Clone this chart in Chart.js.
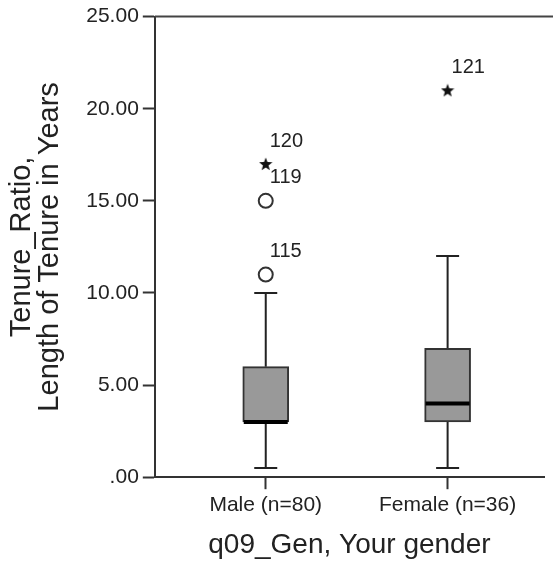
<!DOCTYPE html>
<html>
<head>
<meta charset="utf-8">
<script src="https://cdn.jsdelivr.net/npm/chart.js@4"></script>
<style>
  body { margin: 0; background: #fff; }
  #wrap { width: 553px; height: 563px; }
</style>
</head>
<body>
<div id="wrap"><canvas id="boxChart"></canvas></div>
<script>
// Data
const categories = ['Male (n=80)', 'Female (n=36)'];
const whiskerLow = [0.5, 0.5];
const q1 = [3, 3];
const median = [3, 4];
const q3 = [6, 7];
const whiskerHigh = [10, 12];

// outliers (circles) and extremes (stars): category index, value, case id
const outlierCat = [0, 0];
const outlierVal = [11, 15];
const outlierId = ['115', '119'];
const extremeCat = [0, 1];
const extremeVal = [17, 21];
const extremeId = ['120', '121'];

const yTicks = [0, 5, 10, 15, 20, 25];

Chart.defaults.font.family = "'Liberation Sans', Arial, sans-serif";
Chart.defaults.color = '#222';

// filled five point star used as point style
function makeStar(size) {
    const c = document.createElement('canvas');
    c.width = size; c.height = size;
    const ctx = c.getContext('2d');
    const cx = size / 2, cy = size / 2 + 0.5, R = size / 2, r = R * 0.42;
    ctx.beginPath();
    for (let i = 0; i < 10; i++) {
        const rad = i % 2 === 0 ? R : r;
        const a = -Math.PI / 2 + i * Math.PI / 5;
        ctx.lineTo(cx + rad * Math.cos(a), cy + rad * Math.sin(a));
    }
    ctx.closePath();
    ctx.fillStyle = '#111';
    ctx.fill();
    return c;
}
const star = makeStar(14);

const boxPlugin = {
    id: 'boxParts',
    beforeDatasetsDraw(chart) {
        const { ctx, scales: { x, y } } = chart;
        ctx.save();
        ctx.strokeStyle = '#222';
        ctx.lineWidth = 2;
        categories.forEach((c, i) => {
            const px = x.getPixelForValue(i + 1);
            ctx.beginPath();
            ctx.moveTo(px, y.getPixelForValue(whiskerLow[i]));
            ctx.lineTo(px, y.getPixelForValue(q1[i]));
            ctx.moveTo(px, y.getPixelForValue(q3[i]));
            ctx.lineTo(px, y.getPixelForValue(whiskerHigh[i]));
            // caps
            [whiskerLow[i], whiskerHigh[i]].forEach(v => {
                const py = y.getPixelForValue(v);
                ctx.moveTo(px - 11.5, py);
                ctx.lineTo(px + 11.5, py);
            });
            ctx.stroke();
        });
        ctx.restore();
    },
    afterDatasetsDraw(chart) {
        const { ctx, chartArea, scales: { x, y } } = chart;
        ctx.save();
        // median
        ctx.strokeStyle = '#000';
        ctx.lineWidth = 4;
        categories.forEach((c, i) => {
            const px = x.getPixelForValue(i + 1);
            const py = y.getPixelForValue(median[i]);
            ctx.beginPath();
            ctx.moveTo(px - 22, py);
            ctx.lineTo(px + 22, py);
            ctx.stroke();
        });
        // top frame
        ctx.strokeStyle = '#444';
        ctx.lineWidth = 2;
        ctx.beginPath();
        ctx.moveTo(chartArea.left, chartArea.top);
        ctx.lineTo(chart.width, chartArea.top);
        ctx.stroke();
        // case labels
        ctx.fillStyle = '#222';
        ctx.font = "20px 'Liberation Sans', Arial, sans-serif";
        ctx.textBaseline = 'middle';
        ctx.textAlign = 'left';
        const label = (cat, val, id) => {
            ctx.fillText(id, x.getPixelForValue(cat + 1) + 4, y.getPixelForValue(val) - 23);
        };
        outlierVal.forEach((v, i) => label(outlierCat[i], v, outlierId[i]));
        extremeVal.forEach((v, i) => label(extremeCat[i], v, extremeId[i]));
        ctx.restore();
    }
};

new Chart(document.getElementById('boxChart'), {
    type: 'bar',
    data: {
        datasets: [{
            type: 'bar',
            data: categories.map((c, i) => ({ x: i + 1, y: [q1[i], q3[i]] })),
            backgroundColor: '#999999',
            borderColor: '#333333',
            borderWidth: 2,
            borderSkipped: false,
            barThickness: 46
        }, {
            type: 'scatter',
            data: outlierVal.map((v, i) => ({ x: outlierCat[i] + 1, y: v })),
            pointStyle: 'circle',
            pointRadius: 7,
            borderColor: '#333',
            borderWidth: 2,
            backgroundColor: 'rgba(0,0,0,0)'
        }, {
            type: 'scatter',
            data: extremeVal.map((v, i) => ({ x: extremeCat[i] + 1, y: v })),
            pointStyle: star
        }]
    },
    options: {
        responsive: true,
        maintainAspectRatio: false,
        animation: false,
        layout: { padding: { top: -2, right: 0, bottom: 1, left: 8 } },
        plugins: { legend: { display: false }, tooltip: { enabled: false } },
        scales: {
            x: {
                type: 'linear',
                offset: false,
                min: 0.39,
                max: 2.53,
                afterBuildTicks: axis => { axis.ticks = [1, 2].map(v => ({ value: v })); },
                ticks: {
                    callback: v => categories[v - 1],
                    font: { size: 21 },
                    color: '#222',
                    padding: 3,
                    maxRotation: 0
                },
                grid: { offset: false, drawOnChartArea: false, tickLength: 12, tickColor: '#333', tickWidth: 2 },
                border: { color: '#333', width: 2 },
                title: {
                    display: true,
                    text: 'q09_Gen, Your gender',
                    font: { size: 28 },
                    color: '#222',
                    padding: { top: 8, bottom: 0 }
                }
            },
            y: {
                min: 0,
                max: 25,
                afterBuildTicks: axis => { axis.ticks = yTicks.map(v => ({ value: v })); },
                ticks: {
                    callback: v => v === 0 ? '.00' : v.toFixed(2),
                    font: { size: 21 },
                    color: '#222',
                    padding: 4
                },
                grid: { drawOnChartArea: false, tickLength: 12, tickColor: '#333', tickWidth: 2 },
                border: { color: '#333', width: 2 },
                title: {
                    display: true,
                    text: ['Tenure_Ratio,', 'Length of Tenure in Years'],
                    font: { size: 29, lineHeight: 0.97 },
                    color: '#222',
                    padding: { top: 0, bottom: 18 }
                }
            }
        }
    },
    plugins: [boxPlugin]
});
</script>
</body>
</html>
